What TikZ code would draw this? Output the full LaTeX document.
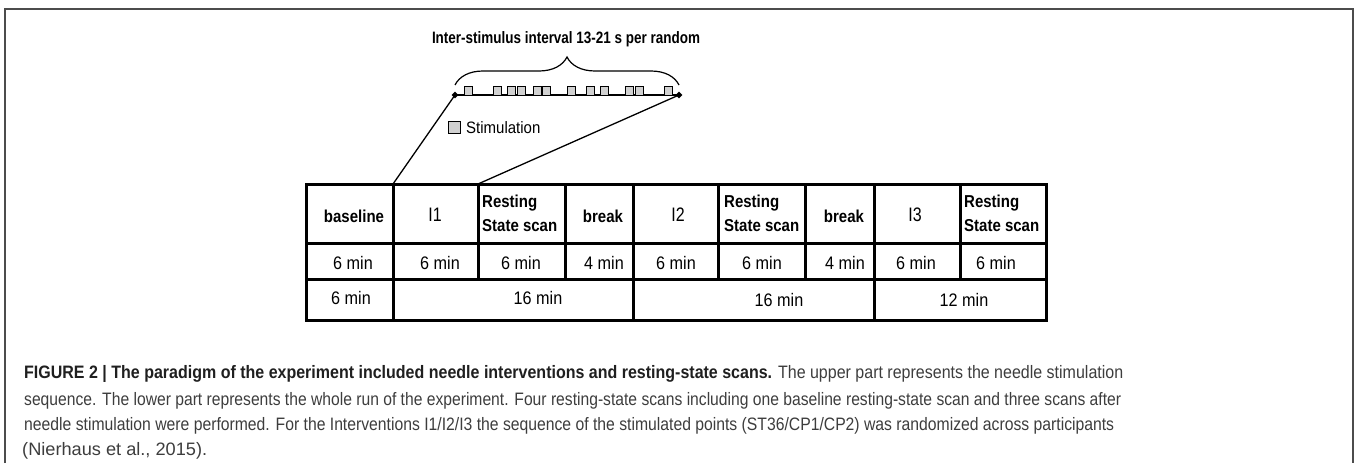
\documentclass[tikz,border=0pt]{standalone}
\usepackage{fontspec}
\setmainfont{Liberation Sans}
\usepackage{graphicx}
\usetikzlibrary{decorations.pathreplacing,shapes.geometric}
\newcommand\cellb[1]{\scalebox{1}[1.15]{\bfseries #1}}
\newcommand\cellr[1]{\scalebox{1}[1.12]{#1}}
\newcommand\cellI[1]{\scalebox{1}[1.22]{#1}}
\newcommand\rest{\scalebox{1}[1.15]{\bfseries\begin{tabular}{@{}l@{}}Resting\\State scan\end{tabular}}}
\definecolor{capbold}{gray}{0.12}
\definecolor{captext}{gray}{0.24}
\begin{document}
\begin{tikzpicture}[x=1pt,y=-1pt,
  tbl/.style={line width=3pt, line cap=rect},
  frame/.style={line width=1.3pt, draw=black!70},
  link/.style={line width=1.3pt},
  stim/.style={draw, line width=1pt, fill=black!18},
  txt/.style={inner sep=0pt, font=\fontsize{15}{21.7}\selectfont},
  rtxt/.style={inner sep=0pt, font=\fontsize{16.2}{20}\selectfont},
  big/.style={inner sep=0pt, font=\fontsize{16}{20}\selectfont},
  captxt/.style={inner sep=0pt, anchor=base west, font=\fontsize{18}{22}\selectfont, text=captext},
  dia/.style={diamond, fill=black, inner sep=0pt, minimum size=7pt}]
\useasboundingbox (0,0) rectangle (1354,463);
% outer frame
\draw[frame] (5,463) -- (5,9) -- (1353,9) -- (1353,463);
% title and brace
\node[inner sep=0pt, font=\fontsize{16.5}{20}\selectfont\bfseries] (title) at (566,39) {\resizebox{268pt}{\height}{Inter-stimulus interval 13-21 s per random}};
\draw[line width=1.2pt, decorate, decoration={brace, amplitude=28pt}] (455,85) -- (679,85);
% stimulation timeline
\node[dia] (d1) at (455,95) {};
\node[dia] (d2) at (679,95) {};
\draw[line width=1.5pt] (d1.center) -- (d2.center);
\foreach \cx in {468,497,511,521,537,546,571,590,604,629,639,668}
  \draw[stim] (\cx-4,86) rectangle (\cx+4,95);
% legend
\draw[stim] (448,121) rectangle (460,133);
\node[txt, anchor=west] (leg) at (466,127.5) {\scalebox{1}[1.1]{Stimulation}};
% table
\coordinate (c1) at (393,184);
\coordinate (c2) at (478,184);
\draw[link] (d1.center) -- (c1);
\draw[link] (d2.center) -- (c2);
\draw[tbl] (306,184) rectangle (1046,320);
\draw[tbl] (306,243) -- (1046,243);
\draw[tbl] (306,279) -- (1046,279);
\foreach \xx in {393,633,874} \draw[tbl] (\xx,184) -- (\xx,320);
\foreach \xx in {478,565,718,805,960} \draw[tbl] (\xx,184) -- (\xx,279);
% row 1
\node[txt] (h1) at (354,216) {\cellb{baseline}};
\node[big] (h2) at (435,215) {\cellI{I1}};
\node[txt, anchor=west] (h3) at (482,214.5) {\rest};
\node[txt] (h4) at (603,216) {\cellb{break}};
\node[big] (h5) at (678,215) {\cellI{I2}};
\node[txt, anchor=west] (h6) at (724,214.5) {\rest};
\node[txt] (h7) at (844,216) {\cellb{break}};
\node[big] (h8) at (915,215) {\cellI{I3}};
\node[txt, anchor=west] (h9) at (964,214.5) {\rest};
% row 2
\node[rtxt] (m1) at (353,263) {\cellr{6 min}};
\node[rtxt] (m2) at (440,263) {\cellr{6 min}};
\node[rtxt] (m3) at (521,263) {\cellr{6 min}};
\node[rtxt] (m4) at (604,263) {\cellr{4 min}};
\node[rtxt] (m5) at (676,263) {\cellr{6 min}};
\node[rtxt] (m6) at (762,263) {\cellr{6 min}};
\node[rtxt] (m7) at (845,263) {\cellr{4 min}};
\node[rtxt] (m8) at (916,263) {\cellr{6 min}};
\node[rtxt] (m9) at (996,263) {\cellr{6 min}};
% row 3
\node[rtxt] (t1) at (351,298.5) {\cellr{6 min}};
\node[rtxt] (t2) at (538,298.5) {\cellr{16 min}};
\node[rtxt] (t3) at (779,300) {\cellr{16 min}};
\node[rtxt] (t4) at (964,299.5) {\cellr{12 min}};
% caption
\node[captxt] (cap1) at (24,378) {\resizebox{1099pt}{\height}{\textcolor{capbold}{\bfseries FIGURE 2 | The paradigm of the experiment included needle interventions and resting-state scans.} The upper part represents the needle stimulation}};
\node[captxt] (cap2) at (24,405) {\resizebox{1097pt}{\height}{sequence. The lower part represents the whole run of the experiment. Four resting-state scans including one baseline resting-state scan and three scans after}};
\node[captxt] (cap3) at (24,430) {\resizebox{1090pt}{\height}{needle stimulation were performed. For the Interventions I1/I2/I3 the sequence of the stimulated points (ST36/CP1/CP2) was randomized across participants}};
\node[captxt] (cap4) at (22,455) {\resizebox{185pt}{\height}{(Nierhaus et al., 2015).}};
\end{tikzpicture}
\end{document}
